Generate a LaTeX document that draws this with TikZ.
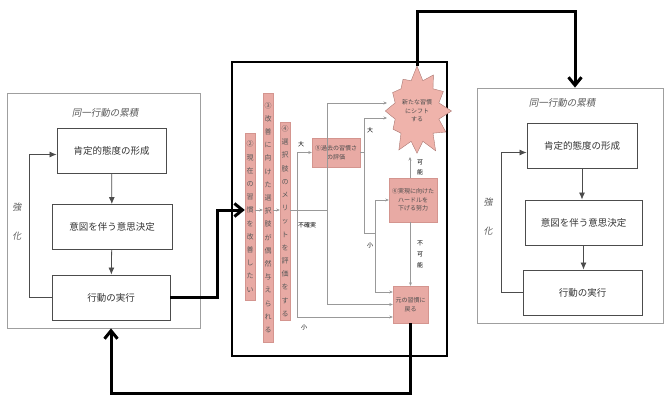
\documentclass[tikz,border=0pt]{standalone}
\usepackage{fontspec}
\newfontfamily\jp{Noto Sans CJK JP}
\newfontfamily\jpsl[FakeSlant=0.2]{Noto Sans CJK JP}
\usetikzlibrary{arrows.meta,shapes.symbols}
\definecolor{pinkfill}{HTML}{E8AAA4}
\definecolor{pinkedge}{HTML}{D4958F}
\definecolor{burst}{HTML}{EFB3AB}
\definecolor{ink}{HTML}{333333}
\makeatletter
\newcommand\tate[1]{\@tfor\tate@c:=#1\do{\tate@c\par}}
\makeatother
\tikzset{
  panel/.style={draw=gray!75,line width=0.8pt},
  stepbox/.style={draw=black!70,line width=0.9pt,minimum height=45pt,text=ink,font=\jp\fontsize{9.5}{11}\selectfont},
  flow/.style={black!70,line width=0.8pt,-{Latex[length=7pt,width=6pt]}},
  ptitle/.style={text=black!65,font=\jpsl\fontsize{9.5}{11}\selectfont},
  bar/.style={draw=pinkedge,fill=pinkfill,minimum width=10pt,inner sep=0pt,text width=9pt,align=center,text=black!65,font=\jp\fontsize{7}{13.2}\selectfont},
  pinkbox/.style={draw=pinkedge,fill=pinkfill,inner sep=1pt,align=center,text=black!70,font=\jp\fontsize{6}{8.5}\selectfont},
  link/.style={gray!80,line width=0.5pt,-{Stealth[length=3.5pt,width=3pt]}},
  wire/.style={gray!80,line width=0.5pt},
  lbl/.style={font=\jp\fontsize{6}{7}\selectfont},
  bigarrow/.style={line width=3pt,-{Straight Barb[length=8pt,width=13pt]}},
}
\begin{document}
\begin{tikzpicture}[x=1pt,y=-1pt]
  \useasboundingbox (0,0) rectangle (667,396);
  % ----- left panel -----
  \node[panel,minimum width=193pt,minimum height=235pt] (leftpanel) at (103.5,210.5) {};
  \node[ptitle] (ltitle) at (105,113) {同一行動の累積};
  \node[stepbox,minimum width=109pt] (lb1) at (111.5,150.5) {肯定的態度の形成};
  \node[stepbox,minimum width=120pt] (lb2) at (112,227) {意図を伴う意思決定};
  \node[stepbox,minimum width=118pt] (lb3) at (111,297.5) {行動の実行};
  \draw[flow] (lb1) -- (lb2);
  \draw[flow] (lb2) -- (lb3);
  \draw[flow] (lb3.west) -- ++(-22,0) |- ([yshift=-4pt]lb1.west);
  \node[ptitle,text width=10pt,align=center,font=\jpsl\fontsize{9}{29}\selectfont] (lkyoka) at (17,222) {\tate{強化}};
  % ----- right panel -----
  \node[panel,minimum width=186pt,minimum height=235pt] (rightpanel) at (570,205.5) {};
  \node[ptitle] (rtitle) at (562,103) {同一行動の累積};
  \node[stepbox,minimum width=110pt] (rb1) at (582,145.5) {肯定的態度の形成};
  \node[stepbox,minimum width=117pt] (rb2) at (583.5,222.5) {意図を伴う意思決定};
  \node[stepbox,minimum width=119pt] (rb3) at (582.5,292.5) {行動の実行};
  \draw[flow] (rb1) -- (rb1 |- rb2.north);
  \draw[flow] (rb2) -- (rb2 |- rb3.north);
  \draw[flow] (rb3.west) -- ++(-21,0) |- ([yshift=-7pt]rb1.west);
  \node[ptitle,text width=10pt,align=center,font=\jpsl\fontsize{9}{29}\selectfont] (rkyoka) at (488,217) {\tate{強化}};
  % ----- middle panel -----
  \node[draw,line width=1.5pt,minimum width=215pt,minimum height=294pt] (midpanel) at (339.5,209) {};
  \node[bar,minimum height=167pt] (kaizen) at (250,216.5) {\tate{②現在の習慣を改善したい}};
  \node[bar,minimum height=249pt] (guuzen) at (268,217.5) {\tate{③改善に向けた選択肢が偶然与えられる}};
  \node[bar,minimum height=198pt] (merit) at (285,221) {\tate{④選択肢のメリットを評価をする}};
  \node[pinkbox,minimum width=48pt,minimum height=29pt] (kako) at (336,152.5) {⑤過去の習慣さ\\の評価};
  \node[pinkbox,minimum width=48pt,minimum height=44pt] (jitsu) at (413,200) {⑥実現に向けた\\ハードルを\\下げる努力};
  \node[pinkbox,minimum width=35pt,minimum height=37pt] (moto) at (410.5,304.5) {元の習慣に\\戻る};
  \node[starburst,draw=pinkedge!80!black,line width=0.4pt,fill=burst,
        starburst points=12,starburst point height=15pt,random starburst=7,align=center,inner xsep=1pt,inner ysep=11pt,
        text=black!70,font=\jp\fontsize{6}{8.5}\selectfont] (shift) at (417,111) {新たな習慣\\にシフト\\する};
  \coordinate (mainrow) at (0,210);
  \coordinate (fork1) at (297,210);
  \coordinate (fork2) at (327,210);
  \coordinate (fork3) at (364,152.5);
  \coordinate (fork4) at (375,233);
  \coordinate (in1) at (387,103);
  \coordinate (in2) at (387,118);
  \coordinate (in3) at (410,157);
  \draw[link] (kaizen.east |- mainrow) -- (guuzen.west |- mainrow);
  \draw[link] (guuzen.east |- mainrow) -- (merit.west |- mainrow);
  \draw[wire] (merit.east |- mainrow) -- (fork2);
  \draw[link] (fork1) |- (kako.west);
  \draw[link] (fork1) |- ([yshift=-12.5pt]moto.west);
  \draw[link] (fork2) |- (in1);
  \draw[link] (fork2) |- (moto.west);
  \draw[wire] (kako.east) -- (fork3);
  \draw[link] (fork3) |- (in2);
  \draw[wire] (fork3) |- (fork4);
  \draw[link] (fork4) |- (jitsu.west);
  \draw[link] (fork4) |- ([yshift=12.5pt]moto.west);
  \draw[link] (jitsu.north -| in3) -- (in3);
  \draw[link] (jitsu.south -| moto.north) -- (moto.north);
  \node[lbl] (dai1) at (301,144) {大};
  \node[lbl] (fukaku) at (307,225) {不確実};
  \node[lbl] (sho1) at (304,327) {小};
  \node[lbl] (dai2) at (370,130) {大};
  \node[lbl] (sho2) at (370,245) {小};
  \node[lbl,text width=7pt,align=center,font=\jp\fontsize{6}{10}\selectfont] (kanou) at (420,167) {\tate{可能}};
  \node[lbl,text width=7pt,align=center,font=\jp\fontsize{6}{11}\selectfont] (fukanou) at (420,254) {\tate{不可能}};
  % ----- thick arrows -----
  \draw[bigarrow] (lb3.east) -- ++(47,0) |- (kaizen.west |- mainrow);
  \coordinate (topright) at (575,12);
  \draw[bigarrow] (shift.north) |- (topright) -- (topright |- rightpanel.north);
  \draw[bigarrow] (moto.south) -- ++(0,70) -| (lb3.south |- leftpanel.south);
\end{tikzpicture}
\end{document}
